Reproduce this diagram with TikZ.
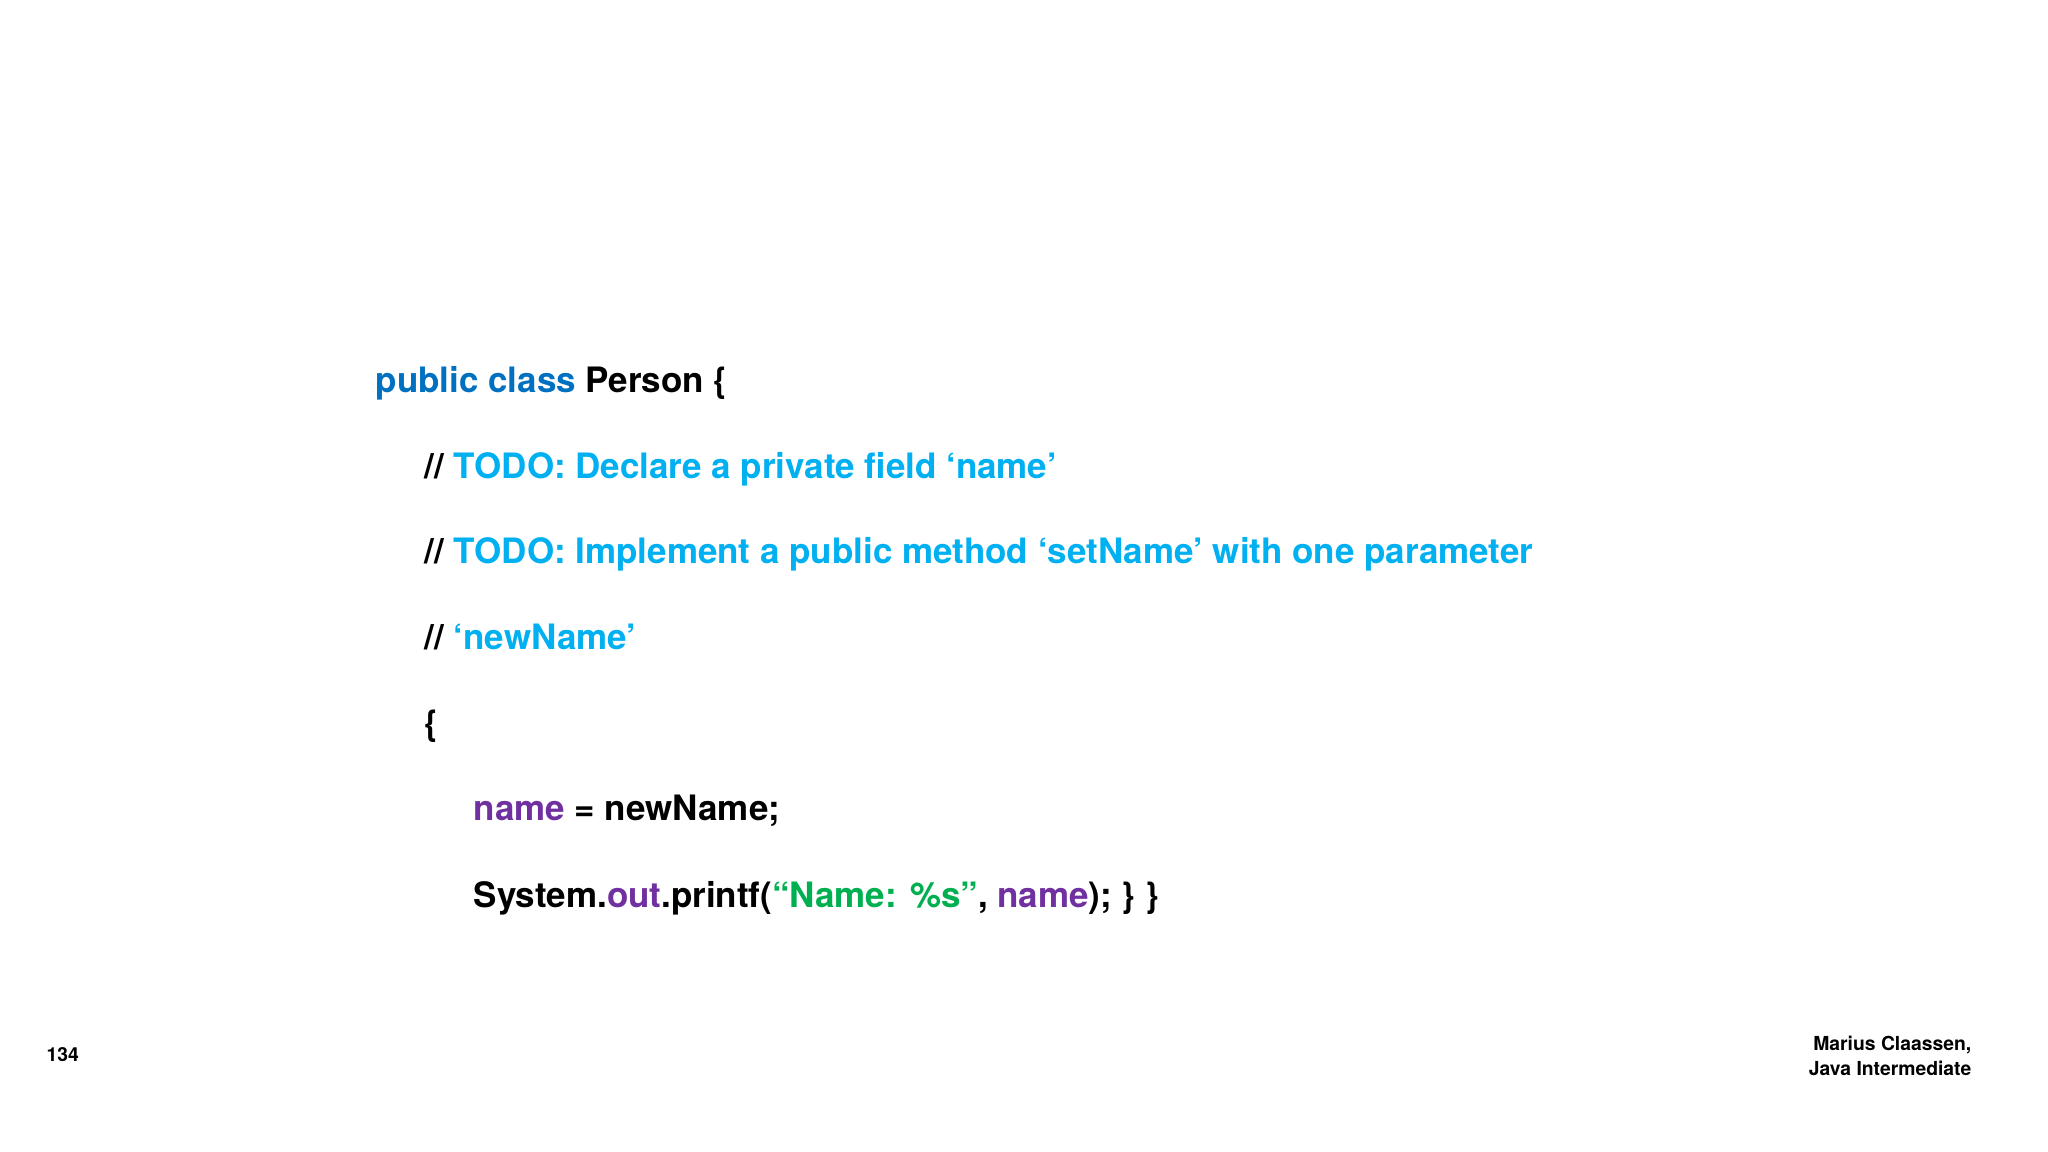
\documentclass[tikz,border=0pt]{standalone}
\usepackage{fontspec}
\setmainfont{TeX Gyre Heros}
\definecolor{kw}{HTML}{0070C0}
\definecolor{cm}{HTML}{00B0F0}
\definecolor{pu}{HTML}{7030A0}
\definecolor{gr}{HTML}{00B050}
\begin{document}
\begin{tikzpicture}[code/.style={anchor=west,inner sep=0pt,font=\fontsize{9.95}{12}\selectfont\bfseries},
foot/.style={inner sep=0pt,font=\fontsize{5.5}{7}\selectfont\bfseries,align=right}]
\useasboundingbox (0,0) rectangle (20.48,-11.52);
\node[code] (l1) at (3.75,-3.83) {\textcolor{kw}{public class} Person \{};
\node[code] (l2) at (4.24,-4.69) {// \textcolor{cm}{TODO: Declare a private field ‘name’}};
\node[code] (l3) at (4.24,-5.54) {// \textcolor{cm}{TODO: Implement a public method ‘setName’ with one parameter}};
\node[code] (l4) at (4.24,-6.37) {// \textcolor{cm}{‘newName’}};
\node[code] (l5) at (4.24,-7.26) {\{};
\node[code] (l6) at (4.73,-8.11) {\textcolor{pu}{name} = newName;};
\node[code] (l7) at (4.73,-8.98) {System.\textcolor{pu}{out}.printf(\textcolor{gr}{“Name: \%s”}, \textcolor{pu}{name}); \} \}};
\node[foot,anchor=west] (pg) at (0.46,-10.55) {134};
\node[foot,anchor=east] (au) at (19.72,-10.56) {Marius Claassen,\\Java Intermediate};
\end{tikzpicture}
\end{document}
